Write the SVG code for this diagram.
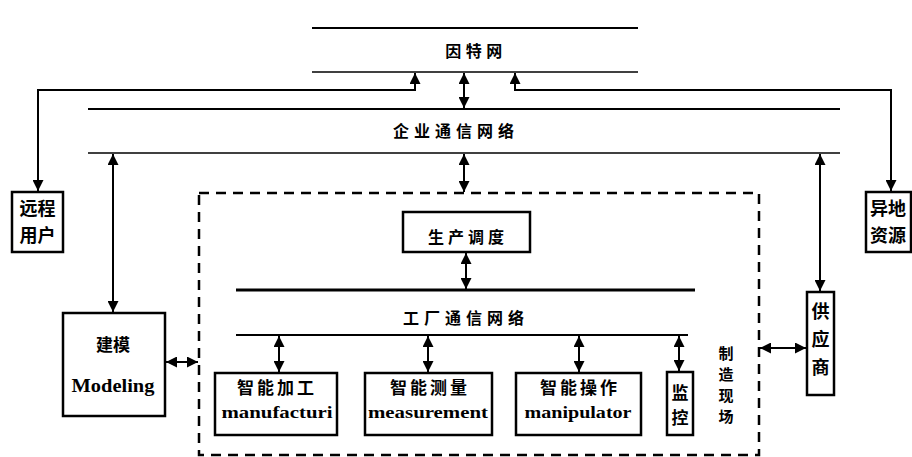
<svg xmlns="http://www.w3.org/2000/svg" width="912" height="457" viewBox="0 0 912 457">
<style>
.cjk{font-family:"Noto Sans CJK SC","Liberation Sans",sans-serif;font-weight:bold;fill:#000}
.en{font-family:"Liberation Serif",serif;font-weight:bold;fill:#000}
.box{fill:#fff;stroke:#000;stroke-width:2.5}
.bus{stroke:#000;fill:none}
.con{stroke:#000;fill:none;stroke-width:2;marker-end:url(#ah)}
.dbl{marker-start:url(#ah)}
</style>
<defs>
<marker id="ah" viewBox="0 0 10 10" refX="10" refY="5" markerWidth="12" markerHeight="11" markerUnits="userSpaceOnUse" orient="auto-start-reverse">
<path d="M0,0 L10,5 L0,10 z" fill="#000"/>
</marker>
</defs>
<rect width="912" height="457" fill="#fff"/>

<g id="internet">
<line class="bus" x1="312" y1="28" x2="638" y2="28" stroke-width="2"/>
<line class="bus" x1="312" y1="72" x2="638" y2="72" stroke-width="1.5"/>
<text class="cjk" x="476" y="57" font-size="16" text-anchor="middle" letter-spacing="4.5">因特网</text>
</g>

<g id="enterprise-network">
<line class="bus" x1="88" y1="109" x2="840" y2="109" stroke-width="2.2"/>
<line class="bus" x1="88" y1="153" x2="840" y2="153" stroke-width="1.5"/>
<text class="cjk" x="456" y="137" font-size="16" text-anchor="middle" letter-spacing="5">企业通信网络</text>
</g>

<g id="remote-user">
<rect class="box" x="12" y="192" width="51" height="60"/>
<text class="cjk" x="37.5" y="215" font-size="18" text-anchor="middle">远程</text>
<text class="cjk" x="37.5" y="242" font-size="18" text-anchor="middle">用户</text>
</g>

<g id="remote-resource">
<rect class="box" x="866" y="192" width="45" height="60"/>
<text class="cjk" x="888" y="215" font-size="18" text-anchor="middle">异地</text>
<text class="cjk" x="888" y="242" font-size="18" text-anchor="middle">资源</text>
</g>

<g id="modeling">
<rect class="box" x="63" y="313" width="102" height="103"/>
<text class="cjk" x="113" y="351" font-size="17" text-anchor="middle">建模</text>
<text class="en" x="113" y="392" font-size="18" text-anchor="middle" textLength="83" lengthAdjust="spacingAndGlyphs">Modeling</text>
</g>

<g id="manufacturing-site">
<rect x="199" y="193" width="560" height="262" fill="none" stroke="#000" stroke-width="2.5" stroke-dasharray="10,7"/>
<text class="cjk" font-size="15" text-anchor="middle"><tspan x="726" y="359">制</tspan><tspan x="726" y="380">造</tspan><tspan x="726" y="401">现</tspan><tspan x="726" y="422">场</tspan></text>
</g>

<g id="production-scheduling">
<rect class="box" x="403" y="212" width="127" height="40"/>
<text class="cjk" x="468" y="243" font-size="16" text-anchor="middle" letter-spacing="4">生产调度</text>
</g>

<g id="factory-network">
<line class="bus" x1="236" y1="290" x2="695" y2="290" stroke-width="3"/>
<line class="bus" x1="236" y1="335" x2="688" y2="335" stroke-width="2"/>
<text class="cjk" x="466" y="324" font-size="16" text-anchor="middle" letter-spacing="5">工厂通信网络</text>
</g>

<g id="manufacturing">
<rect class="box" x="215" y="373" width="122" height="62"/>
<text class="cjk" x="277" y="394" font-size="17" text-anchor="middle" letter-spacing="3">智能加工</text>
<text class="en" x="277" y="418" font-size="16" text-anchor="middle" textLength="111" lengthAdjust="spacingAndGlyphs">manufacturi</text>
</g>

<g id="measurement">
<rect class="box" x="365" y="373" width="127" height="62"/>
<text class="cjk" x="430" y="394" font-size="17" text-anchor="middle" letter-spacing="3">智能测量</text>
<text class="en" x="428" y="418" font-size="16" text-anchor="middle" textLength="120" lengthAdjust="spacingAndGlyphs">measurement</text>
</g>

<g id="manipulation">
<rect class="box" x="516" y="373" width="125" height="62"/>
<text class="cjk" x="580" y="394" font-size="17" text-anchor="middle" letter-spacing="3">智能操作</text>
<text class="en" x="578" y="418" font-size="16" text-anchor="middle" textLength="107" lengthAdjust="spacingAndGlyphs">manipulator</text>
</g>

<g id="monitoring">
<rect class="box" x="667" y="372" width="26" height="63"/>
<text class="cjk" x="680" y="399" font-size="17" text-anchor="middle">监</text>
<text class="cjk" x="680" y="424" font-size="17" text-anchor="middle">控</text>
</g>

<g id="supplier">
<rect class="box" x="807" y="292" width="27" height="103"/>
<text class="cjk" x="820.5" y="318" font-size="18" text-anchor="middle">供</text>
<text class="cjk" x="820.5" y="346" font-size="18" text-anchor="middle">应</text>
<text class="cjk" x="820.5" y="374" font-size="18" text-anchor="middle">商</text>
</g>

<g id="connectors">
<path class="con dbl" d="M415,73 L415,90 L38,90 L38,191" stroke-width="2.5"/>
<path class="con dbl" d="M515,73 L515,90 L891,90 L891,191" stroke-width="2.5"/>
<path class="con dbl" d="M464,73 L464,108"/>
<path class="con dbl" d="M464,154 L464,192"/>
<path class="con dbl" d="M113,154 L113,312" stroke-width="3"/>
<path class="con dbl" d="M820,154 L820,291" stroke-width="1.5"/>
<path class="con dbl" d="M466,253 L466,289"/>
<path class="con dbl" d="M279,336 L279,372"/>
<path class="con dbl" d="M428,336 L428,372"/>
<path class="con dbl" d="M579,336 L579,372"/>
<path class="con dbl" d="M679,336 L679,371"/>
<path class="con dbl" d="M166,362 L198,362"/>
<path class="con dbl" d="M760,348 L806,348"/>
</g>
</svg>
